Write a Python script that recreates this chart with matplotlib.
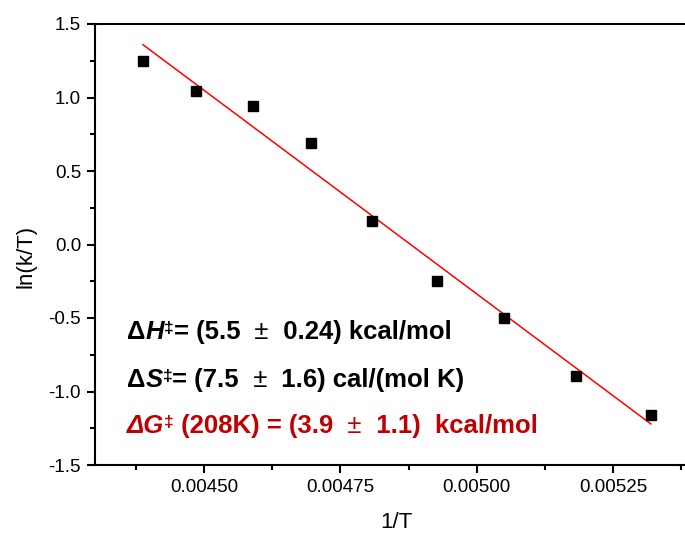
import numpy as np
import matplotlib
matplotlib.use("Agg")
import matplotlib.pyplot as plt
import matplotlib.transforms as mtransforms

plt.rcParams['font.family'] = ['Liberation Sans', 'DejaVu Sans']

# data
inv_T = [0.004388, 0.004486, 0.004589, 0.004696, 0.004808,
         0.004927, 0.005050, 0.005182, 0.005319]
ln_kT = [1.248, 1.046, 0.940, 0.690, 0.160, -0.248, -0.502, -0.892, -1.162]

xticks = [0.00450, 0.00475, 0.00500, 0.00525]
yticks = [-1.5, -1.0, -0.5, 0.0, 0.5, 1.0, 1.5]

fig = plt.figure(figsize=(6.85, 5.33), dpi=100)
ax = fig.add_axes([95 / 685, 68 / 533, 600 / 685, 441 / 533])

ax.plot(inv_T, ln_kT, 's', color='black', markersize=7, zorder=3)

# linear fit
slope, icpt = np.polyfit(inv_T, ln_kT, 1)
xs = np.array([min(inv_T), max(inv_T)])
ax.plot(xs, slope * xs + icpt, color='red', lw=1.1)

ax.set_xlim(0.0043, 0.0054)
ax.set_ylim(-1.5, 1.5)
ax.set_xticks(xticks)
ax.set_xticklabels(['%.5f' % v for v in xticks])
ax.set_xticks([0.004375, 0.004625, 0.004875, 0.005125, 0.005375], minor=True)
ax.set_yticks(yticks)
ax.set_yticklabels(['%.1f' % v for v in yticks])
ax.set_yticks(np.arange(-1.25, 1.5, 0.5), minor=True)

for s in ax.spines.values():
    s.set_linewidth(1.5)
ax.spines['right'].set_visible(False)
ax.tick_params(which='major', direction='out', length=6, width=1.5, labelsize=13.5, pad=4)
ax.tick_params(which='minor', direction='out', length=3.5, width=1.5)

ax.set_xlabel('1/T', fontsize=16)
ax.set_ylabel('ln(k/T)', fontsize=16)
ax.xaxis.set_label_coords(0.502, -(522 - 465) / 441)
ax.yaxis.set_label_coords(-(95 - 26) / 600, (465 - 256) / 441)
ax.xaxis.label.set_va('center')
ax.yaxis.label.set_va('center')

renderer = fig.canvas.get_renderer()


def rich_text(x0, y0, parts, color, size=18.5):
    # draw pieces one after another along the same baseline
    xoff = 0.0
    for s, style, weight, sup in parts:
        fs = size * 0.68 if sup else size
        dy = 6 if sup else 0
        tr = ax.transAxes + mtransforms.Affine2D().translate(xoff, dy)
        t = ax.text(x0, y0, s, transform=tr, va='baseline', ha='left',
                    fontsize=fs, fontstyle=style, fontweight=weight, color=color)
        xoff += t.get_window_extent(renderer).width


line1 = [("Δ", 'normal', 'bold', False),
         ("H", 'italic', 'bold', False),
         ("‡", 'normal', 'bold', True),
         ("= (5.5", 'normal', 'bold', False),
         ("  ±", 'normal', 'normal', False),
         ("  0.24) kcal/mol", 'normal', 'bold', False)]
line2 = [("Δ", 'normal', 'bold', False),
         ("S", 'italic', 'bold', False),
         ("‡", 'normal', 'bold', True),
         ("= (7.5", 'normal', 'bold', False),
         ("  ±", 'normal', 'normal', False),
         ("  1.6) cal/(mol K)", 'normal', 'bold', False)]
line3 = [("ΔG", 'italic', 'bold', False),
         ("‡", 'normal', 'bold', True),
         (" (208K) = (3.9", 'normal', 'bold', False),
         ("  ±", 'normal', 'normal', False),
         ("  1.1)  kcal/mol", 'normal', 'bold', False)]

x_txt = (127 - 95) / 600
rich_text(x_txt, (465 - 339) / 441, line1, 'black')
rich_text(x_txt, (465 - 387) / 441, line2, 'black')
rich_text(x_txt, (465 - 433) / 441, line3, '#c00000')

fig.savefig('out.png', dpi=100)
